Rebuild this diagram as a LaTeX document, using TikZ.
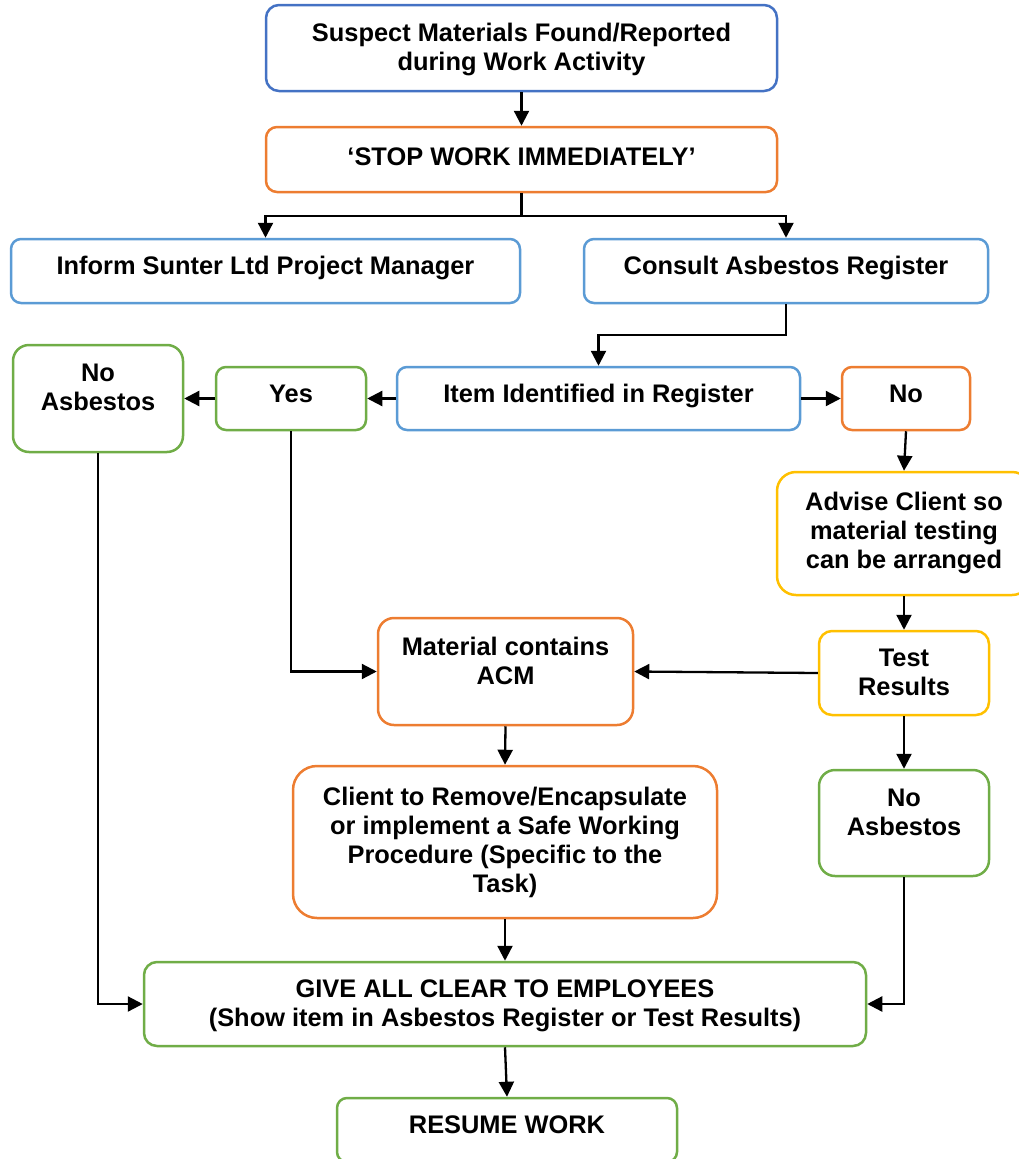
\documentclass[tikz,border=0pt]{standalone}
\usepackage{fontspec}
\setmainfont{Liberation Sans}
\usetikzlibrary{arrows.meta}
\definecolor{cblueA}{HTML}{4472C4}
\definecolor{cblueB}{HTML}{5B9BD5}
\definecolor{corange}{HTML}{ED7D31}
\definecolor{cgreen}{HTML}{70AD47}
\definecolor{cyellow}{HTML}{FFC000}
\newcommand\liftbox[2]{\raisebox{#1pt}[\height][\depth]{\begin{tabular}{@{}c@{}}#2\end{tabular}}}
\tikzset{
  bx/.style={draw=#1, line width=2.5pt, fill=white, inner sep=0pt, align=center,
    font=\fontsize{25.4}{29}\selectfont\bfseries},
  arr/.style={draw=black, line width=2.3pt, -{Triangle[length=15pt,width=15pt]}},
  ln/.style={draw=black, line width=2.3pt}
}
\begin{document}
\begin{tikzpicture}[x=1pt,y=-1pt]
\useasboundingbox (0,0) rectangle (1019,1159);
\clip (0,0) rectangle (1019,1159);

\node[bx=cblueA, minimum width=511pt, minimum height=86pt, rounded corners=13pt] (susp) at (521.5,48)
  {\liftbox{-2}{Suspect Materials Found/Reported\\during Work Activity}};
\node[bx=corange, minimum width=511pt, minimum height=65pt, rounded corners=11pt] (stop) at (521.5,159.5)
  {\liftbox{0}{‘STOP WORK IMMEDIATELY’}};
\node[bx=cblueB, minimum width=509pt, minimum height=64pt, rounded corners=10pt] (inform) at (265.5,271)
  {\liftbox{2}{Inform Sunter Ltd Project Manager}};
\node[bx=cblueB, minimum width=404pt, minimum height=64pt, rounded corners=10pt] (consult) at (786,271)
  {\liftbox{2}{Consult Asbestos Register}};
\node[bx=cblueB, minimum width=403pt, minimum height=63pt, rounded corners=10pt] (item) at (598.5,398.5)
  {\liftbox{2}{Item Identified in Register}};
\node[bx=cgreen, minimum width=150pt, minimum height=63pt, rounded corners=10pt] (yes) at (291,398.5)
  {\liftbox{2}{Yes}};
\node[bx=cgreen, minimum width=170pt, minimum height=107pt, rounded corners=16pt] (noasbL) at (98,398.5)
  {\liftbox{8}{No\\Asbestos}};
\node[bx=corange, minimum width=128pt, minimum height=63pt, rounded corners=10pt] (no) at (906,398.5)
  {\liftbox{2}{No}};
\node[bx=cyellow, minimum width=254pt, minimum height=123pt, rounded corners=19pt] (advise) at (904,533.5)
  {\liftbox{0}{Advise Client so\\material testing\\can be arranged}};
\node[bx=cyellow, minimum width=170pt, minimum height=84pt, rounded corners=13pt] (test) at (904,673)
  {\liftbox{-2}{Test\\Results}};
\node[bx=corange, minimum width=255pt, minimum height=107pt, rounded corners=16pt] (material) at (505.5,671.5)
  {\liftbox{7}{Material contains\\ACM}};
\node[bx=corange, minimum width=424pt, minimum height=152pt, rounded corners=24pt] (client) at (505,842)
  {\liftbox{-1}{Client to Remove/Encapsulate\\or implement a Safe Working\\Procedure (Specific to the\\Task)}};
\node[bx=cgreen, minimum width=170pt, minimum height=106pt, rounded corners=16pt] (noasbR) at (904,823)
  {\liftbox{8}{No\\Asbestos}};
\node[bx=cgreen, minimum width=722pt, minimum height=84pt, rounded corners=13pt] (give) at (505,1004)
  {\liftbox{-2}{GIVE ALL CLEAR TO EMPLOYEES\\(Show item in Asbestos Register or Test Results)}};
\node[bx=cgreen, minimum width=340pt, minimum height=64pt, rounded corners=10pt] (resume) at (507,1130)
  {\liftbox{2}{RESUME WORK}};

% connectors
\draw[arr] (susp.south) -- (stop.north);
\draw[ln] (stop.south) -- ++(0,23) coordinate (j);
\draw[arr] (j) -| (inform.north);
\draw[arr] (j) -| (consult.north);
\draw[arr] (consult.south) -- ++(0,31) -| (item.north);
\draw[arr] (item.west) -- (yes.east);
\draw[arr] (yes.west) -- (noasbL.east);
\draw[arr] (item.east) -- (no.west);
\draw[arr] (no.south) -- (advise.north);
\draw[arr] (advise.south) -- (test.north);
\draw[arr] (test.west) -- (material.east);
\draw[arr] (yes.south) |- (material.west);
\draw[arr] (material.south) -- (client.north);
\draw[arr] (test.south) -- (noasbR.north);
\draw[arr] (client.south) -- (give.north);
\draw[arr] (noasbL.south) |- (give.west);
\draw[arr] (noasbR.south) |- (give.east);
\draw[arr] (give.south) -- (resume.north);
\end{tikzpicture}
\end{document}
